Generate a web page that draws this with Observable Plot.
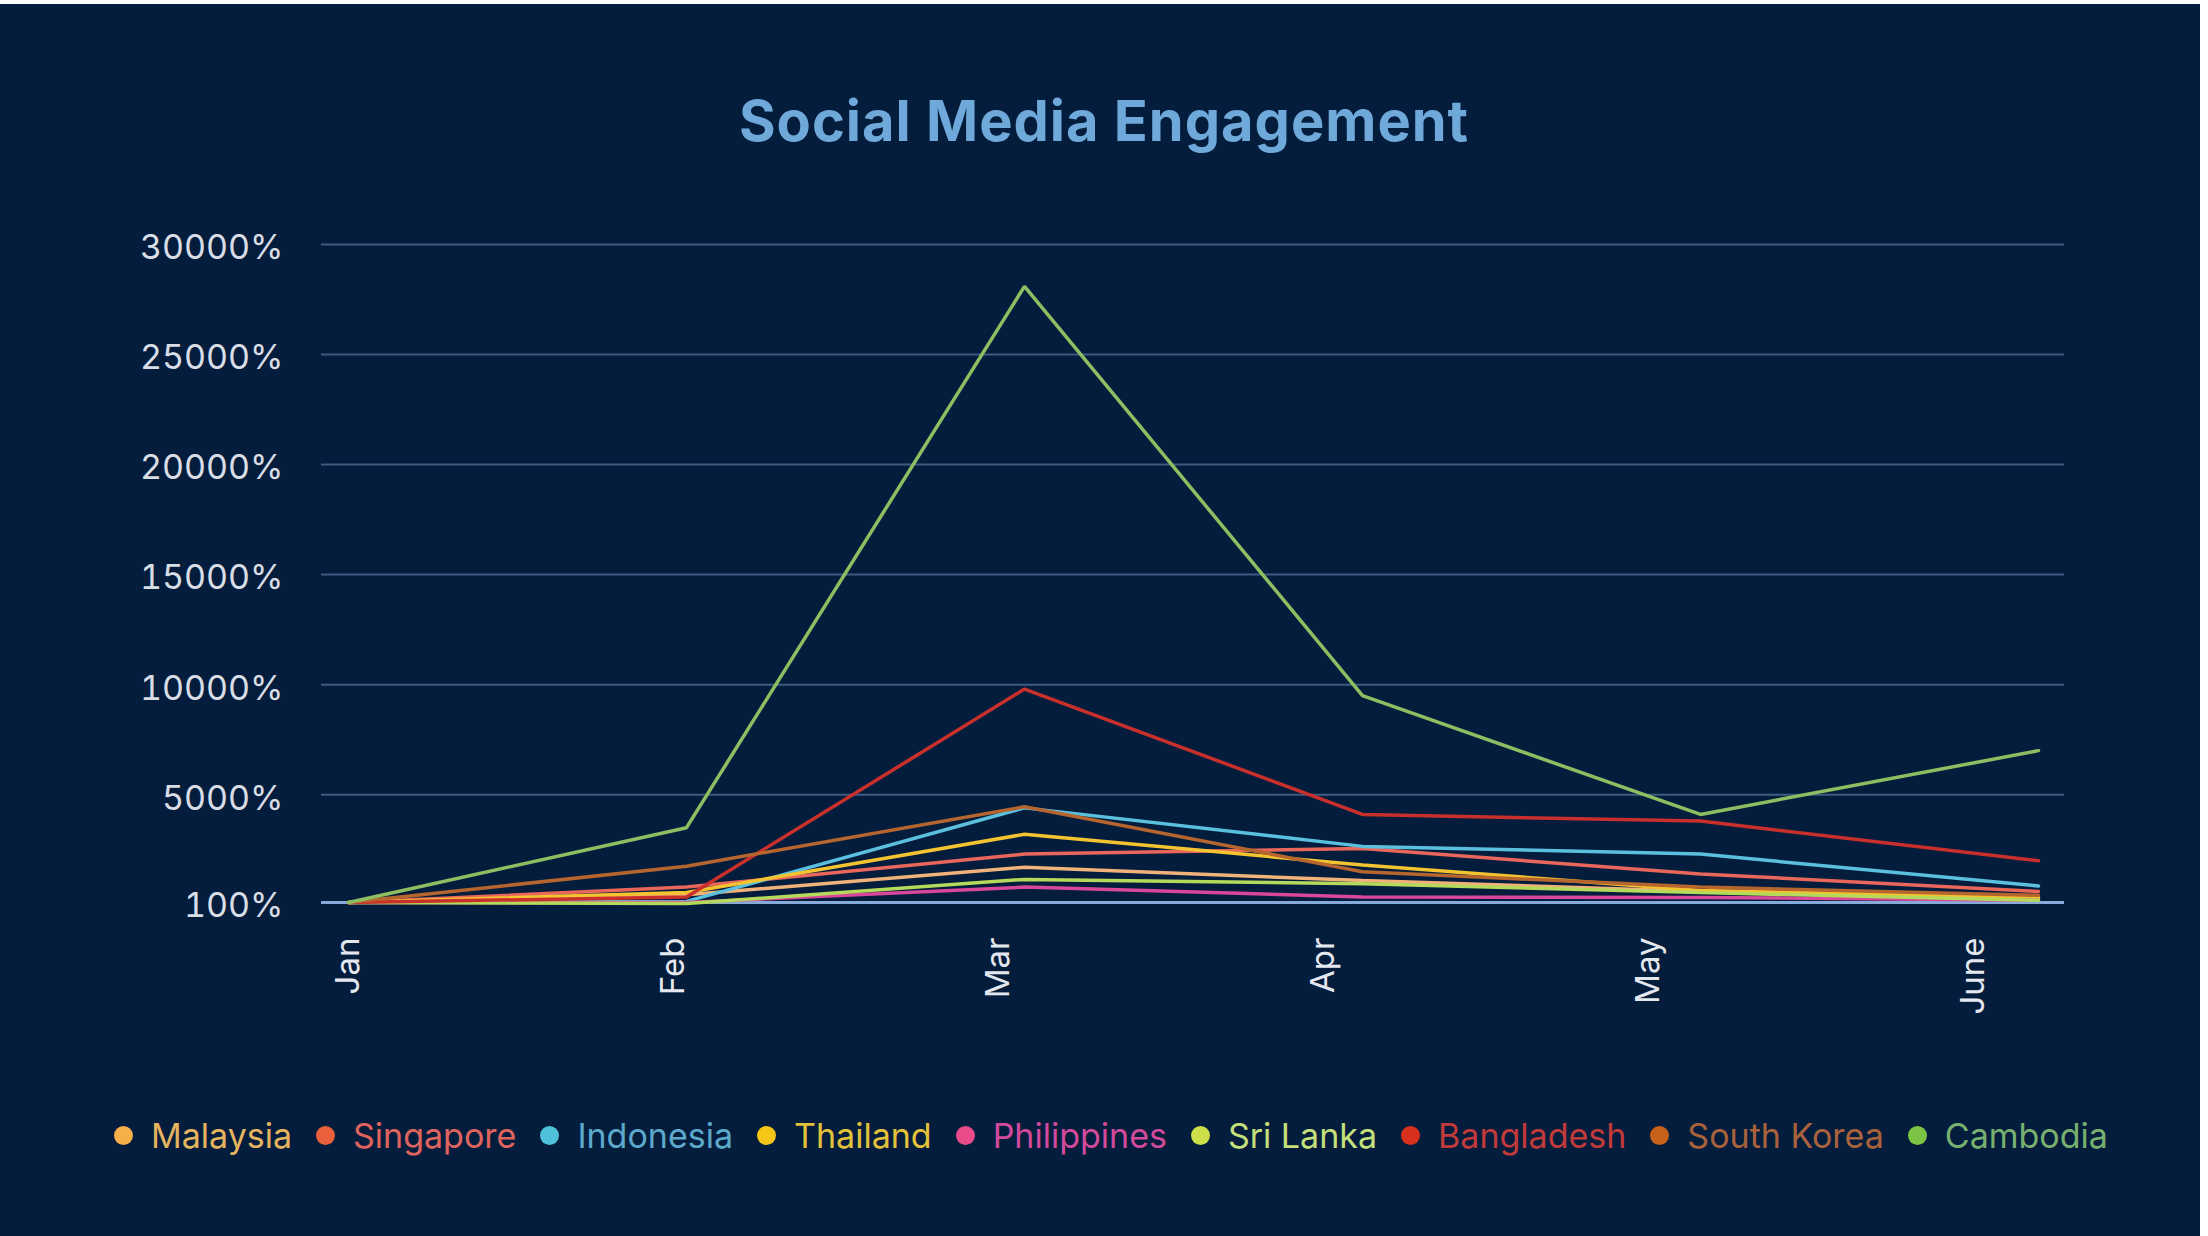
<!DOCTYPE html>
<html>
<head>
<meta charset="utf-8">
<script src="https://cdn.jsdelivr.net/npm/d3@7"></script>
<script src="https://cdn.jsdelivr.net/npm/@observablehq/plot@0.6"></script>
<style>
  html, body { margin: 0; padding: 0; background: #ffffff; width: 2208px; height: 1236px; overflow: hidden; }
  #panel { position: absolute; left: 0; top: 4px; width: 2200px; height: 1232px; background: #041D3D; }
  #title { position: absolute; left: 0; top: 88px; width: 2208px; text-align: center; font-family: Inter, sans-serif; font-weight: 700; font-size: 56px; letter-spacing: 1px; line-height: 66px; color: #6FA9D9; }
  #main { position: absolute; left: 0; top: 200px; }
  #xaxis { position: absolute; left: 0; top: 920px; }
  #legend { position: absolute; left: 114px; width: 1994px; top: 1115px; height: 40px; display: flex; justify-content: space-between; align-items: center; font-family: Inter, sans-serif; font-size: 34px; }
  .item { display: flex; align-items: center; white-space: nowrap; }
  .dot { width: 19px; height: 19px; border-radius: 50%; margin-right: 18px; }
</style>
</head>
<body>
<div id="panel"></div>
<div id="title">Social Media Engagement</div>
<div id="main"></div>
<div id="xaxis"></div>
<div id="legend"></div>
<script>
const months = ["Jan", "Feb", "Mar", "Apr", "May", "June"];
const countries = ["Malaysia", "Singapore", "Indonesia", "Thailand", "Philippines", "Sri Lanka", "Bangladesh", "South Korea", "Cambodia"];
const malaysia    = [100, 450, 1700, 1100, 600, 300];
const singapore   = [100, 800, 2300, 2550, 1400, 600];
const indonesia   = [100, 150, 4400, 2650, 2300, 850];
const thailand    = [100, 550, 3200, 1800, 650, 330];
const philippines = [100, 100, 800, 350, 330, 200];
const sriLanka    = [100, 50, 1150, 950, 550, 200];
const bangladesh  = [100, 350, 9800, 4100, 3800, 2000];
const southKorea  = [100, 1750, 4450, 1500, 800, 430];
const cambodia    = [100, 3500, 28100, 9500, 4100, 7000];
const yTicks = [100, 5000, 10000, 15000, 20000, 25000, 30000];
const lineColors = ["#F0B27A", "#E8665A", "#5BC0DE", "#F4C430", "#D9479A", "#B5D95A", "#C9302C", "#B5652D", "#8DBF62"];
const dotColors  = ["#F6B04A", "#E9603A", "#4FC1D9", "#F5C518", "#E84A8A", "#CDE04A", "#D9301E", "#C8621A", "#7CC444"];
const textColors = ["#E5B45E", "#E0645E", "#5DA9CC", "#E3C23A", "#D24A9C", "#C5E07A", "#C23A3A", "#A9623C", "#78B070"];

const seriesValues = [malaysia, singapore, indonesia, thailand, philippines, sriLanka, bangladesh, southKorea, cambodia];
const rows = countries.flatMap((c, i) => months.map((m, j) => ({country: c, month: m, value: seriesValues[i][j]})));

const main = Plot.plot({
  width: 2208,
  height: 720,
  marginLeft: 321,
  marginRight: 144,
  marginTop: 44,
  marginBottom: 18,
  style: {background: "transparent", color: "#D9DEE6", fontFamily: "Inter, sans-serif", overflow: "visible"},
  x: {type: "point", domain: months, range: [346, 2039], padding: 0, axis: null},
  y: {domain: [100, 30000], axis: null},
  color: {domain: countries, range: lineColors},
  marks: [
    Plot.gridY(yTicks.filter(d => d !== 100), {stroke: "#3E5B82", strokeOpacity: 1, strokeWidth: 2}),
    Plot.axisY(yTicks, {tickFormat: d => d + "%", tickSize: 0, tickPadding: 38, fontSize: 34, dy: 4, fill: "#D9DEE6", label: null}),
    Plot.ruleY([100], {stroke: "#86ABDA", strokeWidth: 3}),
    Plot.line(rows, {x: "month", y: "value", z: "country", stroke: "country", strokeWidth: 3.5, strokeLinejoin: "miter"})
  ]
});
document.getElementById("main").appendChild(main);

const xaxis = Plot.plot({
  width: 2208,
  height: 140,
  marginTop: 0,
  marginBottom: 130,
  marginLeft: 0,
  marginRight: 0,
  style: {background: "transparent", color: "#E4E8EE", fontFamily: "Inter, sans-serif", overflow: "visible"},
  x: {type: "point", domain: months, range: [346, 1974], padding: 0},
  marks: [
    Plot.axisX({tickRotate: -90, tickSize: 0, tickPadding: 7, fontSize: 33, textAnchor: "end", lineAnchor: "middle", fill: "#E4E8EE", label: null})
  ]
});
document.getElementById("xaxis").appendChild(xaxis);

const legend = document.getElementById("legend");
countries.forEach((c, i) => {
  const item = document.createElement("div");
  item.className = "item";
  const dot = document.createElement("span");
  dot.className = "dot";
  dot.style.background = dotColors[i];
  const label = document.createElement("span");
  label.textContent = c;
  label.style.color = textColors[i];
  item.appendChild(dot);
  item.appendChild(label);
  legend.appendChild(item);
});
</script>
</body>
</html>
